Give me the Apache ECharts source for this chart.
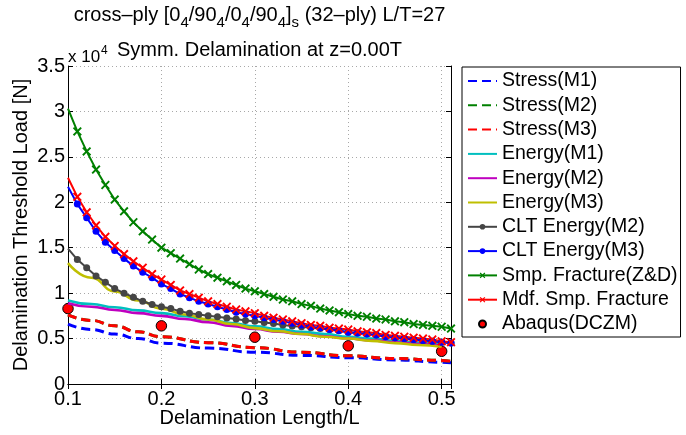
<!DOCTYPE html>
<html>
<head>
<meta charset="utf-8">
<script src="https://cdn.jsdelivr.net/npm/echarts@6/dist/echarts.min.js"></script>
<style>
html,body{margin:0;padding:0;background:#fff;}
#c{width:686px;height:435px;}
</style>
</head>
<body>
<div id="c"></div>
<script>
// Delamination length / L (marker series sampling)
const aFine = [0.10,0.11,0.12,0.13,0.14,0.15,0.16,0.17,0.18,0.19,0.20,0.21,0.22,0.23,0.24,0.25,0.26,0.27,0.28,0.29,0.30,0.31,0.32,0.33,0.34,0.35,0.36,0.37,0.38,0.39,0.40,0.41,0.42,0.43,0.44,0.45,0.46,0.47,0.48,0.49,0.50,0.51];
// values in units of 10^4 N
const smpZD  = [3.03,2.78,2.56,2.36,2.19,2.03,1.90,1.78,1.68,1.59,1.50,1.44,1.38,1.32,1.26,1.21,1.17,1.13,1.09,1.05,1.02,0.99,0.96,0.93,0.91,0.88,0.86,0.83,0.81,0.79,0.77,0.75,0.74,0.72,0.71,0.69,0.68,0.66,0.65,0.64,0.63,0.61];
const mdfSmp = [2.27,2.06,1.89,1.745,1.62,1.52,1.43,1.35,1.28,1.21,1.15,1.09,1.03,0.99,0.95,0.91,0.88,0.85,0.82,0.80,0.78,0.75,0.73,0.71,0.69,0.67,0.65,0.64,0.62,0.61,0.60,0.58,0.57,0.56,0.54,0.53,0.52,0.51,0.50,0.49,0.47,0.46];
const cltM3  = [2.17,1.98,1.83,1.68,1.56,1.47,1.38,1.30,1.23,1.17,1.10,1.05,0.99,0.95,0.91,0.88,0.85,0.82,0.79,0.77,0.75,0.73,0.71,0.69,0.67,0.65,0.63,0.62,0.60,0.59,0.57,0.56,0.55,0.54,0.52,0.51,0.50,0.49,0.48,0.47,0.46,0.45];
const cltM2  = [1.49,1.37,1.28,1.19,1.12,1.05,1.00,0.955,0.91,0.875,0.85,0.83,0.80,0.78,0.765,0.75,0.74,0.727,0.715,0.70,0.69,0.678,0.665,0.65,0.637,0.63,0.62,0.61,0.60,0.585,0.57,0.56,0.55,0.54,0.525,0.51,0.50,0.49,0.48,0.47,0.46,0.45];

const aEnergy  = [0.100,0.125,0.150,0.175,0.200,0.225,0.250,0.275,0.300,0.325,0.350,0.375,0.400,0.425,0.450,0.475,0.500];
const energyM1 = [0.92,0.88,0.845,0.81,0.78,0.745,0.71,0.67,0.635,0.605,0.575,0.55,0.52,0.50,0.475,0.455,0.435];
const energyM2 = [0.89,0.85,0.815,0.78,0.75,0.715,0.68,0.64,0.605,0.575,0.55,0.525,0.50,0.48,0.46,0.44,0.42];
const energyM3 = [1.33,1.17,1.02,0.92,0.83,0.765,0.71,0.66,0.615,0.58,0.55,0.52,0.50,0.475,0.45,0.43,0.41];

const aStress  = [0.10,0.125,0.15,0.175,0.20,0.25,0.30,0.35,0.40,0.45,0.50,0.51];
const stressM1 = [0.66,0.60,0.55,0.50,0.45,0.395,0.35,0.315,0.29,0.265,0.24,0.235];
const stressM2 = [0.76,0.70,0.64,0.575,0.52,0.455,0.40,0.35,0.31,0.28,0.26,0.25];
const stressM3 = [0.76,0.70,0.64,0.575,0.52,0.455,0.40,0.35,0.31,0.28,0.26,0.25];

const aAbaqus = [0.1,0.2,0.3,0.4,0.5];
const abaqus  = [0.83,0.64,0.515,0.42,0.36];

const xTicks = ['0.1','0.2','0.3','0.4','0.5'];
const yTicks = ['0','0.5','1','1.5','2','2.5','3','3.5'];

const FONT = '"Liberation Sans", Arial, Helvetica, sans-serif';
const FS = 20;
const X_PATH = 'path://M0,1.5L1.5,0L5,3.5L8.5,0L10,1.5L6.5,5L10,8.5L8.5,10L5,6.5L1.5,10L0,8.5L3.5,5Z';

function pairs(xs, ys) { return xs.map((x, i) => [x, ys[i]]); }
function pairsNoFirst(xs, ys) {
  return xs.map((x, i) => i === 0 ? {value: [x, ys[i]], symbol: 'none'} : [x, ys[i]]);
}
function plain(name, xs, ys, color, dashed) {
  return {
    name, type: 'line', data: pairs(xs, ys), symbol: 'none', smooth: true, smoothMonotone: 'x',
    lineStyle: {color, width: dashed ? 3 : 2.6, type: dashed ? [9, 5] : 'solid'},
    itemStyle: {color}
  };
}
function marked(name, xs, ys, color, symbol, size) {
  return {
    name, type: 'line', data: pairsNoFirst(xs, ys), symbol, symbolSize: size, showAllSymbol: true,
    lineStyle: {color, width: 2},
    itemStyle: {color, opacity: 1}
  };
}
const lineOnly = {itemStyle: {opacity: 0}};

const chart = echarts.init(document.getElementById('c'), null, {renderer: 'canvas'});
const gridDash = {color: '#a8a8a8', type: [1, 3], width: 1};
chart.setOption({
  animation: false,
  backgroundColor: '#fff',
  textStyle: {fontFamily: FONT},
  grid: {left: 68, right: 235, top: 66, bottom: 51},
  xAxis: [{
    type: 'value', min: 0.1, max: 0.51, interval: 0.1,
    axisLine: {lineStyle: {color: '#000', width: 1}},
    axisTick: {inside: true, length: 5, lineStyle: {color: '#000'}},
    axisLabel: {color: '#000', fontSize: FS, fontFamily: FONT, margin: 5, showMaxLabel: false,
      formatter: v => { const i = Math.round((v - 0.1) / 0.1); return xTicks[i] !== undefined && Math.abs(v - (0.1 + 0.1 * i)) < 1e-6 ? xTicks[i] : ''; }},
    splitLine: {show: true, lineStyle: gridDash}
  }, {
    type: 'value', position: 'top', min: 0.1, max: 0.51, interval: 0.1,
    axisLine: {show: true, lineStyle: {color: '#000', width: 1}},
    axisTick: {show: true, inside: true, length: 5, lineStyle: {color: '#000'}},
    axisLabel: {show: false}, splitLine: {show: false}
  }],
  yAxis: [{
    type: 'value', min: 0, max: 3.5, interval: 0.5,
    axisLine: {show: true, lineStyle: {color: '#000', width: 1}},
    axisTick: {show: true, inside: true, length: 5, lineStyle: {color: '#000'}},
    axisLabel: {color: '#000', fontSize: FS, fontFamily: FONT, margin: 3,
      formatter: v => yTicks[Math.round(v / 0.5)]},
    splitLine: {show: true, lineStyle: gridDash}
  }, {
    type: 'value', position: 'right', min: 0, max: 3.5, interval: 0.5,
    axisLine: {show: true, lineStyle: {color: '#000', width: 1}},
    axisTick: {show: true, inside: true, length: 5, lineStyle: {color: '#000'}},
    axisLabel: {show: false}, splitLine: {show: false}
  }],
  legend: {
    orient: 'vertical', left: 462, top: 67,
    padding: [4, 3, 3, 5],
    borderColor: '#000', borderWidth: 1, backgroundColor: '#fff',
    itemWidth: 29, itemHeight: 7, itemGap: 4.3,
    textStyle: {fontSize: 19.5, fontFamily: FONT, color: '#000', lineHeight: 19.5},
    selectedMode: false,
    data: [
      Object.assign({name: 'Stress(M1)'}, lineOnly),
      Object.assign({name: 'Stress(M2)'}, lineOnly),
      Object.assign({name: 'Stress(M3)'}, lineOnly),
      Object.assign({name: 'Energy(M1)'}, lineOnly),
      Object.assign({name: 'Energy(M2)'}, lineOnly),
      Object.assign({name: 'Energy(M3)'}, lineOnly),
      {name: 'CLT Energy(M2)'}, {name: 'CLT Energy(M3)'},
      {name: 'Smp. Fracture(Z&D)'}, {name: 'Mdf. Smp. Fracture'}, {name: 'Abaqus(DCZM)'}
    ]
  },
  graphic: [
    {type: 'text', x: 259.5, y: 0, z: 10, style: {
      text: '{m|cross–ply [0}{s|4}{m|/90}{s|4}{m|/0}{s|4}{m|/90}{s|4}{m|]}{s|s}{m| (32–ply) L/T=27}',
      align: 'center', verticalAlign: 'top', fill: '#000',
      rich: {
        m: {fontSize: FS, fontFamily: FONT, lineHeight: 30, fill: '#000'},
        s: {fontSize: 15, fontFamily: FONT, lineHeight: 17, verticalAlign: 'bottom', fill: '#000'}
      }}},
    {type: 'text', x: 259.5, y: 50, z: 10, style: {
      text: 'Symm. Delamination at z=0.00T', fontSize: FS, fontFamily: FONT, fill: '#000',
      align: 'center', verticalAlign: 'middle'}},
    {type: 'text', x: 68, y: 57, z: 10, style: {
      text: 'x 10', fontSize: 17, fontFamily: FONT, fill: '#000', align: 'left', verticalAlign: 'middle'}},
    {type: 'text', x: 101, y: 51, z: 10, style: {
      text: '4', fontSize: 12, fontFamily: FONT, fill: '#000', align: 'left', verticalAlign: 'middle'}},
    {type: 'text', x: 259.5, y: 418.4, z: 10, style: {
      text: 'Delamination Length/L', fontSize: FS, fontFamily: FONT, fill: '#000', align: 'center', verticalAlign: 'middle'}},
    {type: 'text', x: 21, y: 225, rotation: Math.PI / 2, z: 10, style: {
      text: 'Delamination Threshold Load [N]', fontSize: FS, fontFamily: FONT, fill: '#000', align: 'center', verticalAlign: 'middle'}}
  ],
  series: [
    plain('Stress(M1)', aStress, stressM1, '#0000ff', true),
    plain('Stress(M2)', aStress, stressM2, '#008000', true),
    plain('Stress(M3)', aStress, stressM3, '#ff0000', true),
    plain('Energy(M1)', aEnergy, energyM1, '#00bfbf', false),
    plain('Energy(M2)', aEnergy, energyM2, '#bf00bf', false),
    plain('Energy(M3)', aEnergy, energyM3, '#bfbf00', false),
    marked('CLT Energy(M2)', aFine, cltM2, '#454545', 'circle', 7),
    marked('CLT Energy(M3)', aFine, cltM3, '#0000ff', 'circle', 7),
    marked('Smp. Fracture(Z&D)', aFine, smpZD, '#008000', X_PATH, 9),
    marked('Mdf. Smp. Fracture', aFine, mdfSmp, '#ff0000', X_PATH, 9),
    {name: 'Abaqus(DCZM)', type: 'scatter', data: pairs(aAbaqus, abaqus), symbol: 'circle', symbolSize: 10.5,
     itemStyle: {color: '#ff0000', borderColor: '#000', borderWidth: 1, opacity: 1}}
  ]
});
</script>
</body>
</html>
